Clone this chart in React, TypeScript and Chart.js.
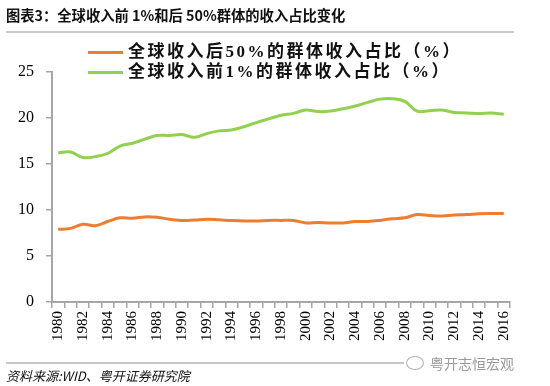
import React, { useEffect, useRef } from "react";
import { Chart, registerables } from "chart.js";

Chart.register(...registerables);

const years: string[] = [
  "1980","1981","1982","1983","1984","1985","1986","1987","1988","1989",
  "1990","1991","1992","1993","1994","1995","1996","1997","1998","1999",
  "2000","2001","2002","2003","2004","2005","2006","2007","2008","2009",
  "2010","2011","2012","2013","2014","2015","2016",
];

const bottom50: number[] = [
  7.9, 8.0, 8.45, 8.3, 8.75, 9.15, 9.1, 9.25, 9.2, 9.0,
  8.85, 8.9, 9.0, 8.93, 8.85, 8.8, 8.8, 8.87, 8.87, 8.87,
  8.6, 8.65, 8.6, 8.6, 8.75, 8.75, 8.87, 9.05, 9.15, 9.5,
  9.4, 9.35, 9.45, 9.5, 9.6, 9.63, 9.63,
];

const top1: number[] = [
  16.23, 16.3, 15.7, 15.8, 16.15, 16.95, 17.25, 17.7, 18.1, 18.1,
  18.2, 17.9, 18.3, 18.6, 18.7, 19.05, 19.5, 19.9, 20.3, 20.5,
  20.87, 20.7, 20.75, 21.0, 21.3, 21.7, 22.05, 22.1, 21.8, 20.75,
  20.8, 20.87, 20.6, 20.55, 20.5, 20.55, 20.4,
];

const seriesNames: string[] = [
  "全球收入后50%的群体收入占比（%）",
  "全球收入前1%的群体收入占比（%）",
];
const seriesColors: string[] = ["#ED7D31", "#92D050"];

const yTicks: number[] = [0, 5, 10, 15, 20, 25];

const AXIS_GRAY = "#A6A6A6";

export default function App() {
  const ref = useRef<HTMLCanvasElement | null>(null);

  useEffect(() => {
    if (!ref.current) return;
    const chart = new Chart(ref.current, {
      type: "line",
      data: {
        labels: years,
        datasets: [
          {
            label: seriesNames[0],
            data: bottom50,
            borderColor: seriesColors[0],
            backgroundColor: seriesColors[0],
            borderWidth: 3,
            pointRadius: 0,
            tension: 0.4,
          },
          {
            label: seriesNames[1],
            data: top1,
            borderColor: seriesColors[1],
            backgroundColor: seriesColors[1],
            borderWidth: 3,
            pointRadius: 0,
            tension: 0.4,
          },
        ],
      },
      options: {
        animation: false,
        responsive: false,
        maintainAspectRatio: false,
        layout: { padding: { left: 6, top: 72, right: 40, bottom: 0 } },
        plugins: {
          legend: { display: false },
          tooltip: { enabled: false },
        },
        scales: {
          x: {
            offset: true,
            border: { display: true, color: AXIS_GRAY, width: 2 },
            grid: {
              display: true,
              offset: true,
              drawOnChartArea: false,
              drawTicks: true,
              tickLength: 6,
              color: AXIS_GRAY,
              lineWidth: 1.5,
            },
            ticks: {
              autoSkip: false,
              maxRotation: 90,
              minRotation: 90,
              padding: 3,
              color: "#000",
              font: { family: "Liberation Serif", size: 15 },
              callback: (_v: any, i: number) => (i % 2 === 0 ? years[i] : ""),
            },
            afterFit: (s: any) => {
              s.height = 386 - 302;
            },
          },
          y: {
            min: 0,
            max: 25,
            border: { display: true, color: AXIS_GRAY, width: 2 },
            grid: {
              display: true,
              drawOnChartArea: false,
              drawTicks: true,
              tickLength: 6,
              color: AXIS_GRAY,
              lineWidth: 1.5,
            },
            afterBuildTicks: (s: any) => {
              s.ticks = yTicks.map((v) => ({ value: v }));
            },
            ticks: {
              padding: 12,
              color: "#000",
              font: { family: "serif", size: 16 },
            },
            afterFit: (s: any) => {
              s.width = 46;
            },
          },
        },
      },
    });
    return () => chart.destroy();
  }, []);

  const legendTextStyle: React.CSSProperties = {
    fontFamily: "Times, 'Noto Sans CJK SC', serif",
    fontWeight: "bold",
    fontSize: 17,
    color: "#111",
    letterSpacing: 2.5,
    whiteSpace: "nowrap",
    lineHeight: "20px",
  };

  return (
    <div
      style={{
        position: "fixed",
        left: 0,
        top: 0,
        width: 550,
        height: 386,
        background: "#fff",
        overflow: "hidden",
      }}
    >
      <canvas
        ref={ref}
        width={550}
        height={386}
        style={{ position: "absolute", left: 0, top: 0, width: 550, height: 386 }}
      />
      <div
        style={{
          position: "absolute",
          left: 6,
          top: 5,
          fontFamily: "'Noto Sans CJK SC', sans-serif",
          fontWeight: "bold",
          fontSize: 14.3,
          lineHeight: "20px",
          color: "#111",
          whiteSpace: "nowrap",
        }}
      >
        图表3：全球收入前 1%和后 50%群体的收入占比变化
      </div>
      <div
        style={{
          position: "absolute",
          left: 6,
          top: 31,
          width: 508,
          height: 2,
          background: "#C8C8C8",
        }}
      />
      {seriesNames.map((name, i) => (
        <div
          key={name}
          style={{ position: "absolute", left: 88, top: 42 + i * 20, display: "flex", alignItems: "center" }}
        >
          <div style={{ width: 35, height: 3, background: seriesColors[i], marginRight: 5 }} />
          <div style={legendTextStyle}>{name}</div>
        </div>
      ))}
      <div
        style={{
          position: "absolute",
          left: 6,
          top: 362,
          width: 508,
          height: 2,
          background: "#C8C8C8",
        }}
      />
      <div
        style={{
          position: "absolute",
          left: 404,
          top: 354,
          background: "#fff",
          padding: "0 2px",
          fontFamily: "'Noto Sans CJK SC', sans-serif",
          fontSize: 14,
          lineHeight: "18px",
          color: "#9A9A9A",
          whiteSpace: "nowrap",
          display: "flex",
          alignItems: "center",
        }}
      >
        <span
          style={{
            display: "inline-block",
            width: 16,
            height: 12,
            border: "1.5px solid #B0B0B0",
            borderRadius: "50%",
            marginRight: 6,
          }}
        />
        粤开志恒宏观
      </div>
      <div
        style={{
          position: "absolute",
          left: 6,
          top: 367,
          fontFamily: "'Noto Sans CJK SC', sans-serif",
          fontStyle: "italic",
          fontSize: 13,
          lineHeight: "18px",
          color: "#111",
          whiteSpace: "nowrap",
        }}
      >
        资料来源:WID、粤开证券研究院
      </div>
    </div>
  );
}
